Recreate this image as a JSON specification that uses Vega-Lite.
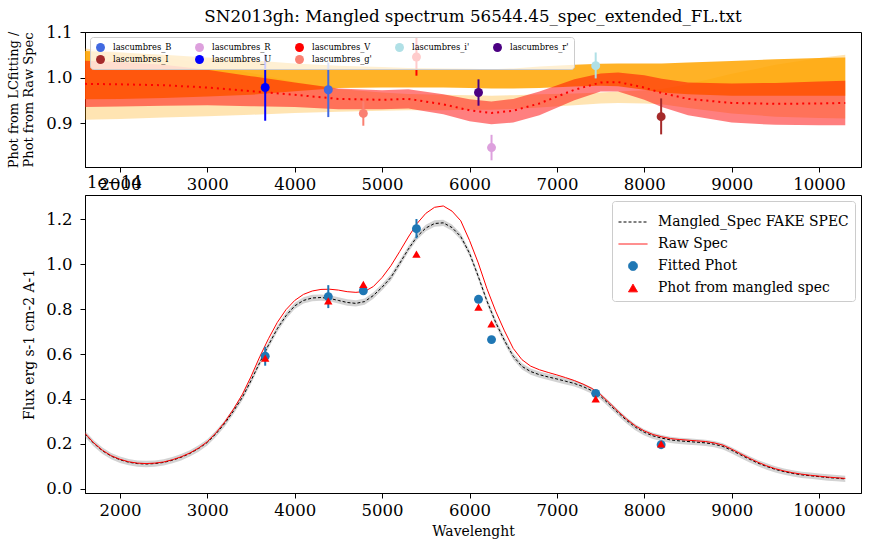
{
  "$schema": "https://vega.github.io/schema/vega-lite/v6.json",
  "background": "white",
  "padding": {"left": 7, "top": 8, "right": 10, "bottom": 5},
  "datasets": {
    "bands": [
      {"w": 1600, "llo": 0.907, "lhi": 1.064, "olo": 0.952, "ohi": 1.058, "rlo": 0.935, "rhi": 1.037, "rmid": 0.986},
      {"w": 2000, "llo": 0.909, "lhi": 1.056, "olo": 0.953, "ohi": 1.055, "rlo": 0.936, "rhi": 1.034, "rmid": 0.985},
      {"w": 2500, "llo": 0.912, "lhi": 1.045, "olo": 0.955, "ohi": 1.050, "rlo": 0.938, "rhi": 1.028, "rmid": 0.983},
      {"w": 3000, "llo": 0.915, "lhi": 1.028, "olo": 0.958, "ohi": 1.044, "rlo": 0.939, "rhi": 1.017, "rmid": 0.978},
      {"w": 3500, "llo": 0.918, "lhi": 1.010, "olo": 0.962, "ohi": 1.038, "rlo": 0.937, "rhi": 1.003, "rmid": 0.970},
      {"w": 4000, "llo": 0.922, "lhi": 0.990, "olo": 0.970, "ohi": 1.031, "rlo": 0.935, "rhi": 0.989, "rmid": 0.962},
      {"w": 4500, "llo": 0.925, "lhi": 0.975, "olo": 0.977, "ohi": 1.026, "rlo": 0.930, "rhi": 0.976, "rmid": 0.953},
      {"w": 5000, "llo": 0.927, "lhi": 0.967, "olo": 0.978, "ohi": 1.023, "rlo": 0.930, "rhi": 0.972, "rmid": 0.951},
      {"w": 5300, "llo": 0.928, "lhi": 0.964, "olo": 0.978, "ohi": 1.021, "rlo": 0.932, "rhi": 0.974, "rmid": 0.953},
      {"w": 5700, "llo": 0.928, "lhi": 0.962, "olo": 0.978, "ohi": 1.020, "rlo": 0.919, "rhi": 0.963, "rmid": 0.941},
      {"w": 6000, "llo": 0.929, "lhi": 0.961, "olo": 0.977, "ohi": 1.019, "rlo": 0.904, "rhi": 0.952, "rmid": 0.928},
      {"w": 6250, "llo": 0.929, "lhi": 0.960, "olo": 0.976, "ohi": 1.018, "rlo": 0.897, "rhi": 0.947, "rmid": 0.922},
      {"w": 6500, "llo": 0.931, "lhi": 0.961, "olo": 0.976, "ohi": 1.020, "rlo": 0.901, "rhi": 0.953, "rmid": 0.927},
      {"w": 6800, "llo": 0.934, "lhi": 0.963, "olo": 0.977, "ohi": 1.024, "rlo": 0.917, "rhi": 0.969, "rmid": 0.943},
      {"w": 7200, "llo": 0.939, "lhi": 0.965, "olo": 0.980, "ohi": 1.028, "rlo": 0.950, "rhi": 0.996, "rmid": 0.973},
      {"w": 7500, "llo": 0.943, "lhi": 0.967, "olo": 0.982, "ohi": 1.030, "rlo": 0.969, "rhi": 1.009, "rmid": 0.989},
      {"w": 7700, "llo": 0.944, "lhi": 0.969, "olo": 0.981, "ohi": 1.031, "rlo": 0.969, "rhi": 1.011, "rmid": 0.990},
      {"w": 8000, "llo": 0.943, "lhi": 0.972, "olo": 0.973, "ohi": 1.031, "rlo": 0.951, "rhi": 1.005, "rmid": 0.978},
      {"w": 8200, "llo": 0.941, "lhi": 0.975, "olo": 0.967, "ohi": 1.031, "rlo": 0.935, "rhi": 0.997, "rmid": 0.966},
      {"w": 8500, "llo": 0.933, "lhi": 0.985, "olo": 0.963, "ohi": 1.033, "rlo": 0.917, "rhi": 0.989, "rmid": 0.953},
      {"w": 9000, "llo": 0.921, "lhi": 1.008, "olo": 0.960, "ohi": 1.036, "rlo": 0.901, "rhi": 0.987, "rmid": 0.944},
      {"w": 9500, "llo": 0.914, "lhi": 1.028, "olo": 0.960, "ohi": 1.040, "rlo": 0.896, "rhi": 0.988, "rmid": 0.942},
      {"w": 10000, "llo": 0.911, "lhi": 1.043, "olo": 0.960, "ohi": 1.043, "rlo": 0.895, "rhi": 0.991, "rmid": 0.943},
      {"w": 10300, "llo": 0.910, "lhi": 1.050, "olo": 0.960, "ohi": 1.044, "rlo": 0.895, "rhi": 0.993, "rmid": 0.944}
    ],
    "ratio": [
      {"filter": "lascumbres_U", "w": 3662, "ratio": 0.978, "lo": 0.905, "hi": 1.051},
      {"filter": "lascumbres_B", "w": 4384, "ratio": 0.973, "lo": 0.913, "hi": 1.033},
      {"filter": "lascumbres_g'", "w": 4785, "ratio": 0.921, "lo": 0.894, "hi": 0.948},
      {"filter": "lascumbres_V", "w": 5393, "ratio": 1.045, "lo": 1.004, "hi": 1.088},
      {"filter": "lascumbres_r'", "w": 6103, "ratio": 0.967, "lo": 0.938, "hi": 0.996},
      {"filter": "lascumbres_R", "w": 6252, "ratio": 0.846, "lo": 0.818, "hi": 0.874},
      {"filter": "lascumbres_i'", "w": 7444, "ratio": 1.026, "lo": 0.998, "hi": 1.055},
      {"filter": "lascumbres_I", "w": 8193, "ratio": 0.914, "lo": 0.875, "hi": 0.954}
    ],
    "spec": [
      {"w": 1600, "raw": 0.247, "man": 0.245, "lo": 0.231, "hi": 0.259},
      {"w": 1700, "raw": 0.205, "man": 0.203, "lo": 0.189, "hi": 0.217},
      {"w": 1800, "raw": 0.172, "man": 0.170, "lo": 0.156, "hi": 0.184},
      {"w": 1900, "raw": 0.148, "man": 0.146, "lo": 0.132, "hi": 0.160},
      {"w": 2000, "raw": 0.132, "man": 0.130, "lo": 0.116, "hi": 0.144},
      {"w": 2100, "raw": 0.121, "man": 0.119, "lo": 0.105, "hi": 0.133},
      {"w": 2200, "raw": 0.115, "man": 0.113, "lo": 0.099, "hi": 0.127},
      {"w": 2300, "raw": 0.113, "man": 0.111, "lo": 0.097, "hi": 0.125},
      {"w": 2400, "raw": 0.115, "man": 0.113, "lo": 0.099, "hi": 0.127},
      {"w": 2500, "raw": 0.120, "man": 0.118, "lo": 0.104, "hi": 0.132},
      {"w": 2600, "raw": 0.130, "man": 0.128, "lo": 0.114, "hi": 0.142},
      {"w": 2700, "raw": 0.143, "man": 0.141, "lo": 0.127, "hi": 0.155},
      {"w": 2800, "raw": 0.160, "man": 0.158, "lo": 0.144, "hi": 0.172},
      {"w": 2900, "raw": 0.182, "man": 0.180, "lo": 0.166, "hi": 0.194},
      {"w": 3000, "raw": 0.210, "man": 0.207, "lo": 0.193, "hi": 0.221},
      {"w": 3100, "raw": 0.250, "man": 0.246, "lo": 0.232, "hi": 0.260},
      {"w": 3200, "raw": 0.298, "man": 0.292, "lo": 0.278, "hi": 0.306},
      {"w": 3300, "raw": 0.355, "man": 0.347, "lo": 0.333, "hi": 0.361},
      {"w": 3400, "raw": 0.420, "man": 0.407, "lo": 0.393, "hi": 0.421},
      {"w": 3500, "raw": 0.500, "man": 0.482, "lo": 0.468, "hi": 0.496},
      {"w": 3600, "raw": 0.588, "man": 0.562, "lo": 0.548, "hi": 0.576},
      {"w": 3700, "raw": 0.668, "man": 0.640, "lo": 0.626, "hi": 0.654},
      {"w": 3800, "raw": 0.740, "man": 0.712, "lo": 0.698, "hi": 0.726},
      {"w": 3900, "raw": 0.797, "man": 0.770, "lo": 0.756, "hi": 0.784},
      {"w": 4000, "raw": 0.838, "man": 0.814, "lo": 0.800, "hi": 0.828},
      {"w": 4100, "raw": 0.865, "man": 0.838, "lo": 0.824, "hi": 0.852},
      {"w": 4200, "raw": 0.880, "man": 0.849, "lo": 0.835, "hi": 0.863},
      {"w": 4300, "raw": 0.887, "man": 0.851, "lo": 0.837, "hi": 0.865},
      {"w": 4400, "raw": 0.888, "man": 0.847, "lo": 0.833, "hi": 0.861},
      {"w": 4500, "raw": 0.884, "man": 0.838, "lo": 0.824, "hi": 0.852},
      {"w": 4600, "raw": 0.877, "man": 0.829, "lo": 0.815, "hi": 0.843},
      {"w": 4700, "raw": 0.874, "man": 0.825, "lo": 0.811, "hi": 0.839},
      {"w": 4800, "raw": 0.878, "man": 0.833, "lo": 0.819, "hi": 0.847},
      {"w": 4900, "raw": 0.900, "man": 0.860, "lo": 0.846, "hi": 0.874},
      {"w": 5000, "raw": 0.940, "man": 0.897, "lo": 0.883, "hi": 0.911},
      {"w": 5100, "raw": 0.992, "man": 0.940, "lo": 0.926, "hi": 0.954},
      {"w": 5200, "raw": 1.055, "man": 1.002, "lo": 0.988, "hi": 1.016},
      {"w": 5300, "raw": 1.120, "man": 1.066, "lo": 1.052, "hi": 1.080},
      {"w": 5400, "raw": 1.180, "man": 1.122, "lo": 1.108, "hi": 1.136},
      {"w": 5500, "raw": 1.225, "man": 1.160, "lo": 1.146, "hi": 1.174},
      {"w": 5600, "raw": 1.252, "man": 1.180, "lo": 1.166, "hi": 1.194},
      {"w": 5700, "raw": 1.258, "man": 1.183, "lo": 1.169, "hi": 1.197},
      {"w": 5800, "raw": 1.235, "man": 1.162, "lo": 1.148, "hi": 1.176},
      {"w": 5900, "raw": 1.192, "man": 1.122, "lo": 1.108, "hi": 1.136},
      {"w": 6000, "raw": 1.105, "man": 1.048, "lo": 1.034, "hi": 1.062},
      {"w": 6100, "raw": 1.005, "man": 0.945, "lo": 0.931, "hi": 0.959},
      {"w": 6200, "raw": 0.890, "man": 0.835, "lo": 0.821, "hi": 0.849},
      {"w": 6300, "raw": 0.790, "man": 0.740, "lo": 0.726, "hi": 0.754},
      {"w": 6400, "raw": 0.703, "man": 0.660, "lo": 0.646, "hi": 0.674},
      {"w": 6500, "raw": 0.625, "man": 0.590, "lo": 0.576, "hi": 0.604},
      {"w": 6600, "raw": 0.575, "man": 0.545, "lo": 0.531, "hi": 0.559},
      {"w": 6700, "raw": 0.546, "man": 0.522, "lo": 0.508, "hi": 0.536},
      {"w": 6800, "raw": 0.530, "man": 0.508, "lo": 0.494, "hi": 0.522},
      {"w": 6900, "raw": 0.518, "man": 0.498, "lo": 0.484, "hi": 0.512},
      {"w": 7000, "raw": 0.507, "man": 0.489, "lo": 0.475, "hi": 0.503},
      {"w": 7100, "raw": 0.495, "man": 0.479, "lo": 0.465, "hi": 0.493},
      {"w": 7200, "raw": 0.482, "man": 0.469, "lo": 0.455, "hi": 0.483},
      {"w": 7300, "raw": 0.466, "man": 0.455, "lo": 0.441, "hi": 0.469},
      {"w": 7400, "raw": 0.447, "man": 0.437, "lo": 0.423, "hi": 0.451},
      {"w": 7500, "raw": 0.420, "man": 0.412, "lo": 0.398, "hi": 0.426},
      {"w": 7600, "raw": 0.383, "man": 0.376, "lo": 0.362, "hi": 0.390},
      {"w": 7700, "raw": 0.345, "man": 0.339, "lo": 0.325, "hi": 0.353},
      {"w": 7800, "raw": 0.310, "man": 0.304, "lo": 0.290, "hi": 0.318},
      {"w": 7900, "raw": 0.280, "man": 0.274, "lo": 0.260, "hi": 0.288},
      {"w": 8000, "raw": 0.258, "man": 0.252, "lo": 0.238, "hi": 0.266},
      {"w": 8100, "raw": 0.242, "man": 0.236, "lo": 0.222, "hi": 0.250},
      {"w": 8200, "raw": 0.232, "man": 0.226, "lo": 0.212, "hi": 0.240},
      {"w": 8300, "raw": 0.224, "man": 0.218, "lo": 0.204, "hi": 0.232},
      {"w": 8400, "raw": 0.220, "man": 0.214, "lo": 0.200, "hi": 0.228},
      {"w": 8500, "raw": 0.217, "man": 0.211, "lo": 0.197, "hi": 0.225},
      {"w": 8600, "raw": 0.214, "man": 0.208, "lo": 0.194, "hi": 0.222},
      {"w": 8700, "raw": 0.211, "man": 0.205, "lo": 0.191, "hi": 0.219},
      {"w": 8800, "raw": 0.205, "man": 0.199, "lo": 0.185, "hi": 0.213},
      {"w": 8900, "raw": 0.195, "man": 0.189, "lo": 0.175, "hi": 0.203},
      {"w": 9000, "raw": 0.177, "man": 0.172, "lo": 0.158, "hi": 0.186},
      {"w": 9100, "raw": 0.157, "man": 0.152, "lo": 0.138, "hi": 0.166},
      {"w": 9200, "raw": 0.137, "man": 0.133, "lo": 0.119, "hi": 0.147},
      {"w": 9300, "raw": 0.119, "man": 0.115, "lo": 0.101, "hi": 0.129},
      {"w": 9400, "raw": 0.103, "man": 0.100, "lo": 0.086, "hi": 0.114},
      {"w": 9500, "raw": 0.090, "man": 0.087, "lo": 0.073, "hi": 0.101},
      {"w": 9600, "raw": 0.080, "man": 0.077, "lo": 0.063, "hi": 0.091},
      {"w": 9700, "raw": 0.072, "man": 0.069, "lo": 0.055, "hi": 0.083},
      {"w": 9800, "raw": 0.066, "man": 0.063, "lo": 0.049, "hi": 0.077},
      {"w": 9900, "raw": 0.061, "man": 0.059, "lo": 0.045, "hi": 0.073},
      {"w": 10000, "raw": 0.057, "man": 0.055, "lo": 0.041, "hi": 0.069},
      {"w": 10100, "raw": 0.053, "man": 0.051, "lo": 0.037, "hi": 0.065},
      {"w": 10200, "raw": 0.050, "man": 0.048, "lo": 0.034, "hi": 0.062},
      {"w": 10300, "raw": 0.047, "man": 0.045, "lo": 0.031, "hi": 0.059}
    ],
    "fitted": [
      {"w": 3662, "flux": 0.590, "lo": 0.548, "hi": 0.632},
      {"w": 4384, "flux": 0.855, "lo": 0.804, "hi": 0.906},
      {"w": 4785, "flux": 0.881, "lo": 0.866, "hi": 0.896},
      {"w": 5393, "flux": 1.157, "lo": 1.114, "hi": 1.200},
      {"w": 6103, "flux": 0.843, "lo": 0.828, "hi": 0.858},
      {"w": 6252, "flux": 0.664, "lo": 0.652, "hi": 0.676},
      {"w": 7444, "flux": 0.425, "lo": 0.410, "hi": 0.440},
      {"w": 8193, "flux": 0.197, "lo": 0.187, "hi": 0.207}
    ],
    "mangled": [
      {"w": 3662, "flux": 0.582},
      {"w": 4384, "flux": 0.836},
      {"w": 4785, "flux": 0.909},
      {"w": 5393, "flux": 1.044},
      {"w": 6103, "flux": 0.808},
      {"w": 6252, "flux": 0.734},
      {"w": 7444, "flux": 0.401},
      {"w": 8193, "flux": 0.200}
    ]
  },
  "vconcat": [
    {
      "width": 776,
      "height": 135,
      "title": {
        "text": "SN2013gh: Mangled spectrum 56544.45_spec_extended_FL.txt",
        "fontSize": 16.7,
        "fontWeight": "normal",
        "anchor": "middle",
        "offset": -2
      },
      "layer": [
        {
          "data": {"name": "bands"},
          "mark": {"type": "area", "color": "#FFA500", "opacity": 0.3, "clip": true},
          "encoding": {
            "x": {
              "field": "w",
              "type": "quantitative",
              "scale": {"domain": [1600, 10480], "nice": false, "zero": false},
              "axis": {"values": [2000, 3000, 4000, 5000, 6000, 7000, 8000, 9000, 10000], "format": "d", "title": null}
            },
            "y": {
              "field": "llo",
              "type": "quantitative",
              "scale": {"domain": [0.8033, 1.1], "nice": false, "zero": false},
              "axis": {
                "values": [0.9, 1.0, 1.1],
                "format": ".1f",
                "labelPadding": 8,
                "title": ["Phot from LCfitting /", "Phot from Raw Spec"],
                "titleFontSize": 13,
                "titleLineHeight": 15,
                "titlePadding": 10
              }
            },
            "y2": {"field": "lhi"}
          }
        },
        {
          "data": {"name": "bands"},
          "mark": {"type": "area", "color": "#FFA500", "opacity": 0.85, "clip": true},
          "encoding": {
            "x": {"field": "w", "type": "quantitative"},
            "y": {"field": "olo", "type": "quantitative"},
            "y2": {"field": "ohi"}
          }
        },
        {
          "data": {"name": "bands"},
          "mark": {"type": "area", "color": "#FF0000", "opacity": 0.5, "clip": true},
          "encoding": {
            "x": {"field": "w", "type": "quantitative"},
            "y": {"field": "rlo", "type": "quantitative"},
            "y2": {"field": "rhi"}
          }
        },
        {
          "data": {"name": "bands"},
          "mark": {"type": "line", "color": "#FF0000", "strokeWidth": 2, "strokeDash": [2, 4], "clip": true},
          "encoding": {
            "x": {"field": "w", "type": "quantitative"},
            "y": {"field": "rmid", "type": "quantitative"}
          }
        },
        {
          "data": {"name": "ratio"},
          "mark": {"type": "rule", "strokeWidth": 2},
          "encoding": {
            "x": {"field": "w", "type": "quantitative"},
            "y": {"field": "lo", "type": "quantitative"},
            "y2": {"field": "hi"},
            "stroke": {
              "field": "filter",
              "type": "nominal",
              "scale": {
                "domain": ["lascumbres_B", "lascumbres_R", "lascumbres_V", "lascumbres_i'", "lascumbres_r'", "lascumbres_I", "lascumbres_U", "lascumbres_g'"],
                "range": ["#4169E1", "#DDA0DD", "#FF0000", "#B0E0E6", "#4B0082", "#A52A2A", "#0000FF", "#FA8072"]
              },
              "legend": null
            }
          }
        },
        {
          "data": {"name": "ratio"},
          "mark": {"type": "point", "shape": "circle", "filled": true, "size": 80, "opacity": 1},
          "encoding": {
            "x": {"field": "w", "type": "quantitative"},
            "y": {"field": "ratio", "type": "quantitative"},
            "color": {
              "field": "filter",
              "type": "nominal",
              "scale": {
                "domain": ["lascumbres_B", "lascumbres_R", "lascumbres_V", "lascumbres_i'", "lascumbres_r'", "lascumbres_I", "lascumbres_U", "lascumbres_g'"],
                "range": ["#4169E1", "#DDA0DD", "#FF0000", "#B0E0E6", "#4B0082", "#A52A2A", "#0000FF", "#FA8072"]
              },
              "legend": {
                "title": null,
                "orient": "top-left",
                "offset": 5,
                "columns": 5,
                "direction": "horizontal",
                "symbolType": "circle",
                "symbolSize": 80,
                "symbolOpacity": 1,
                "labelFontSize": 8.3,
                "labelOffset": 7,
                "columnPadding": 22,
                "rowPadding": 2,
                "padding": 5,
                "fillColor": "rgba(255,255,255,0.8)",
                "strokeColor": "#cccccc",
                "cornerRadius": 3
              }
            }
          }
        }
      ]
    },
    {
      "width": 776,
      "height": 298,
      "title": {
        "text": "1e−14",
        "anchor": "start",
        "frame": "group",
        "fontSize": 16.5,
        "fontWeight": "normal",
        "offset": 4,
        "dx": 2
      },
      "layer": [
        {
          "data": {"name": "spec"},
          "mark": {"type": "area", "color": "#808080", "opacity": 0.35, "clip": true},
          "encoding": {
            "x": {
              "field": "w",
              "type": "quantitative",
              "scale": {"domain": [1600, 10480], "nice": false, "zero": false},
              "axis": {"values": [2000, 3000, 4000, 5000, 6000, 7000, 8000, 9000, 10000], "format": "d", "title": "Wavelenght", "titlePadding": 6}
            },
            "y": {
              "field": "lo",
              "type": "quantitative",
              "scale": {"domain": [-0.0178, 1.3067], "nice": false, "zero": false},
              "axis": {"values": [0, 0.2, 0.4, 0.6, 0.8, 1.0, 1.2], "format": ".1f", "labelPadding": 8, "title": "Flux erg s-1 cm-2 A-1", "titlePadding": 9}
            },
            "y2": {"field": "hi"}
          }
        },
        {
          "data": {"name": "spec"},
          "mark": {"type": "line", "strokeWidth": 1, "strokeDash": [3, 2], "clip": true},
          "encoding": {
            "x": {"field": "w", "type": "quantitative"},
            "y": {"field": "man", "type": "quantitative"},
            "color": {
              "datum": "Mangled_Spec FAKE SPEC",
              "type": "nominal",
              "scale": {
                "domain": ["Mangled_Spec FAKE SPEC", "Raw Spec", "Fitted Phot", "Phot from mangled spec"],
                "range": ["#000000", "#FF0000", "#1f77b4", "#FF0000"]
              },
              "legend": {
                "title": null,
                "orient": "top-right",
                "offset": 6,
                "symbolSize": 625,
                "labelFontSize": 13.9,
                "labelOffset": 10,
                "rowPadding": -4,
                "padding": 6,
                "fillColor": "rgba(255,255,255,0.8)",
                "strokeColor": "#cccccc",
                "cornerRadius": 3,
                "labelLimit": 400,
                "encode": {
                  "symbols": {
                    "update": {
                      "shape": {"signal": "datum.value === 'Fitted Phot' ? 'circle' : datum.value === 'Phot from mangled spec' ? 'triangle-up' : 'stroke'"},
                      "size": {"signal": "datum.value === 'Fitted Phot' || datum.value === 'Phot from mangled spec' ? 80 : 841"},
                      "strokeDash": {"signal": "datum.value === 'Mangled_Spec FAKE SPEC' ? [3, 2] : [1, 0]"},
                      "fill": {"signal": "datum.value === 'Fitted Phot' ? '#1f77b4' : datum.value === 'Phot from mangled spec' ? '#FF0000' : 'transparent'"},
                      "stroke": {"signal": "datum.value === 'Mangled_Spec FAKE SPEC' ? '#000000' : datum.value === 'Raw Spec' ? '#FF0000' : 'transparent'"},
                      "strokeWidth": {"value": 1},
                      "opacity": {"value": 1}
                    }
                  }
                }
              }
            }
          }
        },
        {
          "data": {"name": "spec"},
          "mark": {"type": "line", "strokeWidth": 1, "clip": true},
          "encoding": {
            "x": {"field": "w", "type": "quantitative"},
            "y": {"field": "raw", "type": "quantitative"},
            "color": {"datum": "Raw Spec", "type": "nominal"}
          }
        },
        {
          "data": {"name": "fitted"},
          "mark": {"type": "rule", "strokeWidth": 2, "color": "#1f77b4"},
          "encoding": {
            "x": {"field": "w", "type": "quantitative"},
            "y": {"field": "lo", "type": "quantitative"},
            "y2": {"field": "hi"}
          }
        },
        {
          "data": {"name": "fitted"},
          "mark": {"type": "point", "shape": "circle", "filled": true, "size": 80, "opacity": 1},
          "encoding": {
            "x": {"field": "w", "type": "quantitative"},
            "y": {"field": "flux", "type": "quantitative"},
            "color": {"datum": "Fitted Phot", "type": "nominal"}
          }
        },
        {
          "data": {"name": "mangled"},
          "mark": {"type": "point", "shape": "triangle-up", "filled": true, "size": 70, "opacity": 1},
          "encoding": {
            "x": {"field": "w", "type": "quantitative"},
            "y": {"field": "flux", "type": "quantitative"},
            "color": {"datum": "Phot from mangled spec", "type": "nominal"}
          }
        }
      ]
    }
  ],
  "spacing": 28,
  "bounds": "flush",
  "resolve": {
    "scale": {"color": "independent", "x": "independent", "y": "independent"},
    "legend": {"color": "independent"}
  },
  "config": {
    "font": "DejaVu Serif",
    "view": {"stroke": "black", "strokeWidth": 1},
    "axis": {
      "grid": false,
      "domainColor": "black",
      "tickColor": "black",
      "tickSize": 5,
      "labelPadding": 4,
      "labelFont": "DejaVu Serif",
      "labelFontSize": 16.5,
      "labelColor": "black",
      "titleFont": "DejaVu Serif",
      "titleFontSize": 13.9,
      "titleFontWeight": "normal",
      "titleColor": "black"
    },
    "legend": {
      "labelFont": "DejaVu Serif",
      "labelColor": "black"
    },
    "title": {"font": "DejaVu Serif", "color": "black"}
  }
}
